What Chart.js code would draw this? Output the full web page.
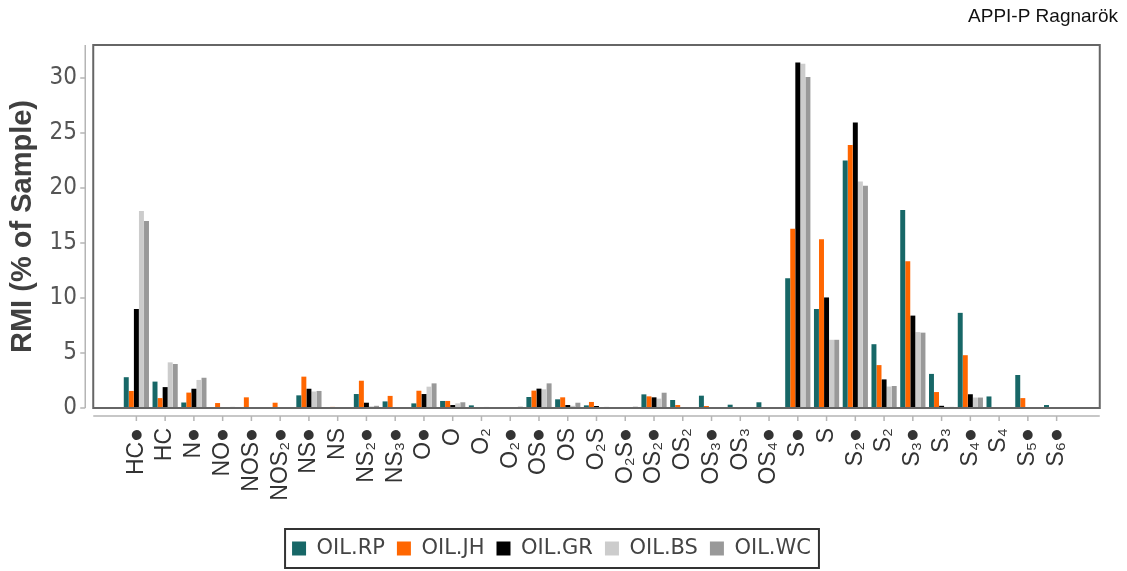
<!DOCTYPE html>
<html>
<head>
<meta charset="utf-8">
<script src="https://cdn.jsdelivr.net/npm/chart.js@4.4.0/dist/chart.umd.min.js"></script>
<style>
  html, body { margin: 0; padding: 0; background: #fff; }
  #wrap { width: 1127px; height: 571px; }
</style>
</head>
<body>
<div id="wrap"><canvas id="chart"></canvas></div>
<script>
// categories on the x axis
const categories = [
  "HC●", "HC", "N●", "NO●", "NOS●", "NOS₂●", "NS●", "NS", "NS₂●", "NS₃●",
  "O●", "O", "O₂", "O₂●", "OS●", "OS", "O₂S", "O₂S●", "OS₂●", "OS₂",
  "OS₃●", "OS₃", "OS₄●", "S●", "S", "S₂●", "S₂", "S₃●", "S₃", "S₄●",
  "S₄", "S₅●", "S₆●",
];

// RMI (% of sample) per oil
const oilRP = [2.8, 2.4, 0.5, 0, 0, 0, 1.15, 0, 1.27, 0.6, 0.42, 0.64, 0.24, 0, 1.0, 0.79, 0.24, 0, 1.24, 0.73, 1.12, 0.3, 0.52, 11.8, 9.0, 22.5, 5.8, 18.0, 3.1, 8.65, 1.05, 3.0, 0.27];
const oilJH = [1.55, 0.9, 1.4, 0.45, 0.97, 0.48, 2.85, 0.1, 2.48, 1.1, 1.57, 0.64, 0, 0, 1.58, 0.97, 0.55, 0, 1.06, 0.27, 0.18, 0, 0, 16.3, 15.35, 23.9, 3.9, 13.35, 1.45, 4.8, 0, 0.9, 0];
const oilGR = [9.0, 1.9, 1.75, 0, 0, 0, 1.75, 0, 0.48, 0, 1.27, 0.27, 0, 0, 1.76, 0.27, 0.18, 0, 0.97, 0, 0, 0, 0, 31.4, 10.05, 25.95, 2.6, 8.4, 0.2, 1.25, 0, 0, 0];
const oilBS = [17.9, 4.15, 2.55, 0, 0, 0, 1.5, 0, 0.15, 0, 1.94, 0.42, 0.1, 0, 1.7, 0.2, 0.05, 0.05, 0.85, 0, 0, 0, 0, 31.3, 6.2, 20.6, 1.95, 6.9, 0.1, 0.95, 0, 0, 0];
const oilWC = [17.0, 4.0, 2.75, 0.1, 0, 0, 1.55, 0, 0.2, 0, 2.24, 0.52, 0, 0.12, 2.24, 0.48, 0.1, 0.12, 1.39, 0, 0, 0, 0, 30.1, 6.2, 20.2, 2.0, 6.85, 0.1, 0.95, 0, 0, 0];

const seriesNames = ["OIL.RP", "OIL.JH", "OIL.GR", "OIL.BS", "OIL.WC"];
const seriesColors = ["#176767", "#ff6600", "#000000", "#cccccc", "#999999"];
const yTicks = [0, 5, 10, 15, 20, 25, 30];

// frame around the plot, offset axes and the corner title
const framePlugin = {
  id: "framePlugin",
  afterDraw(chart) {
    const { ctx, chartArea: a, scales } = chart;
    const x = scales.x;
    const y = scales.y;
    const cat = a.width / categories.length;
    const left = a.left - cat;
    const right = a.right + cat;
    ctx.save();

    // box
    ctx.strokeStyle = "#666";
    ctx.lineWidth = 2;
    ctx.strokeRect(left, a.top, right - left, a.bottom - a.top);

    // y axis, set off to the left
    ctx.strokeStyle = "#b5b5b5";
    ctx.lineWidth = 1.5;
    const yx = left - 8;
    ctx.beginPath();
    ctx.moveTo(yx, a.top);
    ctx.lineTo(yx, a.bottom);
    yTicks.forEach((v) => {
      const py = y.getPixelForValue(v);
      ctx.moveTo(yx - 5, py);
      ctx.lineTo(yx, py);
    });
    ctx.stroke();

    // x axis, set off below
    const xy = a.bottom + 8;
    ctx.beginPath();
    ctx.moveTo(left, xy);
    ctx.lineTo(right, xy);
    categories.forEach((c, i) => {
      const px = x.getPixelForTick(i);
      ctx.moveTo(px, xy);
      ctx.lineTo(px, xy + 5);
    });
    ctx.stroke();

    // legend border
    const boxes = chart.legend.legendHitBoxes;
    if (boxes && boxes.length) {
      const l = Math.min(...boxes.map((b) => b.left));
      const r = Math.max(...boxes.map((b) => b.left + b.width));
      const t = Math.min(...boxes.map((b) => b.top));
      const h = boxes[0].height;
      ctx.strokeStyle = "#333";
      ctx.lineWidth = 2;
      ctx.strokeRect(l - 7, t + h / 2 - 19.5, r - l + 15, 39);
    }

    // corner label
    ctx.fillStyle = "#111";
    ctx.font = "19px 'Liberation Sans', Arial, sans-serif";
    ctx.textAlign = "right";
    ctx.textBaseline = "middle";
    ctx.fillText("APPI-P Ragnarök", 1118, 17);
    ctx.restore();
  },
};

const ctx = document.getElementById("chart").getContext("2d");
new Chart(ctx, {
  type: "bar",
  data: {
    labels: categories,
    datasets: [oilRP, oilJH, oilGR, oilBS, oilWC].map((d, i) => ({
      label: seriesNames[i],
      data: d,
      backgroundColor: seriesColors[i],
      borderWidth: 0,
      categoryPercentage: 0.88,
      barPercentage: 0.98,
    })),
  },
  options: {
    responsive: true,
    maintainAspectRatio: false,
    animation: false,
    layout: { padding: { left: 0, right: 24, top: 45, bottom: 2 } },
    plugins: {
      tooltip: { enabled: false },
      legend: {
        position: "bottom",
        labels: {
          boxWidth: 14,
          boxHeight: 14,
          padding: 12,
          color: "#444",
          font: { family: "'DejaVu Sans', Verdana, sans-serif", size: 21 },
        },
      },
    },
    scales: {
      x: {
        grid: { display: false, drawTicks: false },
        border: { display: false },
        ticks: {
          autoSkip: false,
          maxRotation: 90,
          minRotation: 90,
          padding: 20,
          color: "#333",
          font: { family: "'Liberation Sans', Arial, sans-serif", size: 23 },
        },
        afterFit(s) {
          const lh = s.chart.legend ? s.chart.legend.height : 45;
          s.height = s.chart.height - 2 - lh - 408;
        },
      },
      y: {
        min: 0,
        max: 33,
        grid: { display: false, drawTicks: true, tickLength: 42 },
        border: { display: false },
        afterBuildTicks(s) {
          s.ticks = yTicks.map((v) => ({ value: v }));
        },
        ticks: {
          padding: 3,
          color: "#555",
          font: { family: "'DejaVu Sans Condensed', 'Liberation Sans', sans-serif", size: 24 },
        },
        title: {
          display: true,
          text: "RMI (% of Sample)",
          color: "#404040",
          padding: { top: 6, bottom: 0 },
          font: { family: "'Liberation Sans', Arial, sans-serif", size: 29, weight: "bold" },
        },
        afterFit(s) {
          s.width = 122;
        },
      },
      y2: {
        position: "right",
        grid: { display: false, drawTicks: false },
        border: { display: false },
        ticks: { display: false },
        afterFit(s) {
          s.width = 32;
        },
      },
    },
  },
  plugins: [framePlugin],
});
</script>
</body>
</html>
